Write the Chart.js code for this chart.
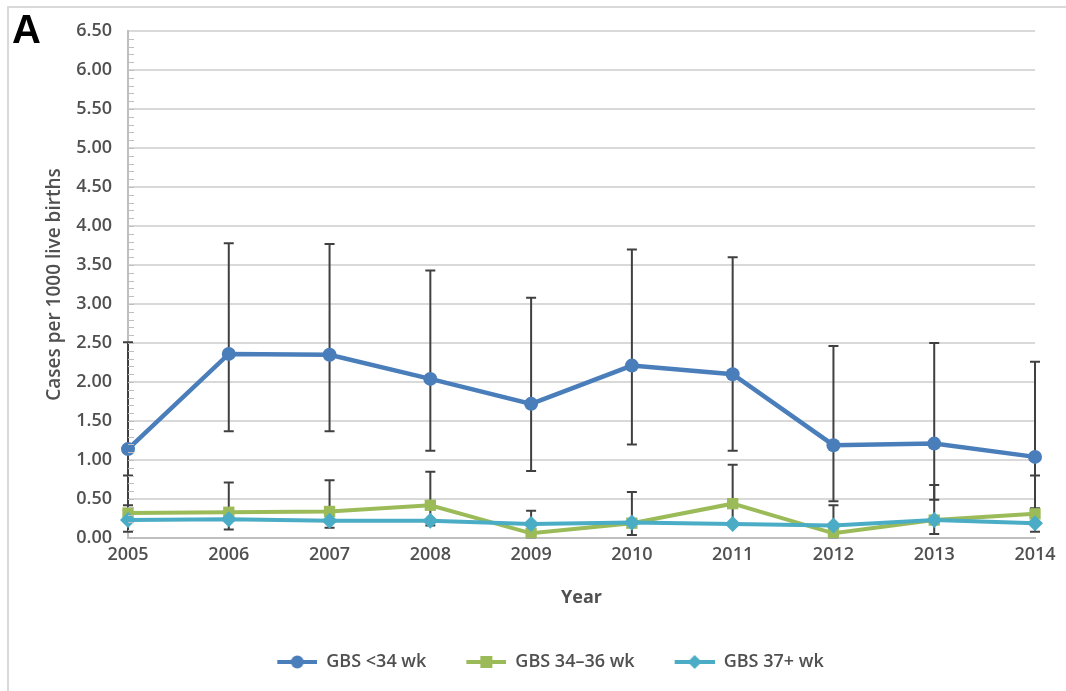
<!DOCTYPE html>
<html>
<head>
<meta charset="utf-8">
<script src="https://cdn.jsdelivr.net/npm/chart.js@4.4.1/dist/chart.umd.min.js"></script>
<style>
  html, body { margin: 0; padding: 0; background: #fff; }
  #wrap { width: 1066px; height: 691px; }
</style>
</head>
<body>
<div id="wrap"><canvas id="chartgbs" width="1066" height="691"></canvas></div>
<script>
// years on the x axis
var years = ["2005","2006","2007","2008","2009","2010","2011","2012","2013","2014"];

// GBS <34 wk
var gbs34 = [1.14, 2.36, 2.35, 2.04, 1.72, 2.21, 2.10, 1.19, 1.21, 1.04];
var gbs34Low = [0.42, 1.37, 1.37, 1.12, 0.86, 1.20, 1.12, 0.47, 0.49, 0.38];
var gbs34High = [2.51, 3.78, 3.77, 3.43, 3.08, 3.70, 3.60, 2.46, 2.50, 2.26];

// GBS 34-36 wk
var gbs3436 = [0.32, 0.33, 0.34, 0.42, 0.06, 0.19, 0.44, 0.06, 0.23, 0.31];
var gbs3436Low = [0.08, 0.11, 0.13, 0.16, 0.01, 0.04, 0.18, 0.01, 0.05, 0.08];
var gbs3436High = [0.80, 0.71, 0.74, 0.85, 0.35, 0.59, 0.94, 0.42, 0.68, 0.80];

// GBS 37+ wk
var gbs37 = [0.23, 0.24, 0.22, 0.22, 0.18, 0.20, 0.18, 0.16, 0.23, 0.19];

var yTicks = [0, 0.5, 1, 1.5, 2, 2.5, 3, 3.5, 4, 4.5, 5, 5.5, 6, 6.5];

var cBlue = "#4a7ebb";
var cGreen = "#9bbb59";
var cCyan = "#4bacc6";
var txtColor = "#505050";
var fontFam = "'Open Sans'";

// little legend swatch: line with the marker in the middle
function makeSwatch(color, shape){
    var c = document.createElement("canvas");
    c.width = 70; c.height = 16;
    var g = c.getContext("2d");
    g.strokeStyle = color;
    g.lineWidth = 4;
    g.beginPath(); g.moveTo(30, 8); g.lineTo(70, 8); g.stroke();
    g.fillStyle = color;
    g.beginPath();
    if(shape == "circle"){
        g.arc(50, 8, 6.5, 0, Math.PI*2);
    }else if(shape == "rect"){
        g.rect(44, 2, 12, 12);
    }else{
        g.moveTo(50, 1); g.lineTo(57, 8); g.lineTo(50, 15); g.lineTo(43, 8); g.closePath();
    }
    g.fill();
    return c;
}
var swatches = [makeSwatch(cBlue,"circle"), makeSwatch(cGreen,"rect"), makeSwatch(cCyan,"diamond")];

// error bars (whiskers with caps)
var errorBars = {
    id: "errorBars",
    beforeDatasetsDraw: function(chart){
        var ctx = chart.ctx;
        var xs = chart.scales.x, ys = chart.scales.y;
        ctx.save();
        ctx.strokeStyle = "#404040";
        ctx.lineWidth = 2;
        chart.data.datasets.forEach(function(ds){
            if(!ds.errLow) return;
            for(var i=0;i<ds.data.length;i++){
                var x = xs.getPixelForValue(i);
                var y1 = ys.getPixelForValue(ds.errLow[i]);
                var y2 = ys.getPixelForValue(ds.errHigh[i]);
                ctx.beginPath();
                ctx.moveTo(x, y1); ctx.lineTo(x, y2);
                ctx.moveTo(x-5, y1); ctx.lineTo(x+5, y1);
                ctx.moveTo(x-5, y2); ctx.lineTo(x+5, y2);
                ctx.stroke();
            }
        });
        ctx.restore();
    }
};

// minor tick marks on the y axis, panel letter and frame
var extras = {
    id: "extras",
    afterDraw: function(chart){
        var ctx = chart.ctx;
        var ys = chart.scales.y;
        var a = chart.chartArea;
        ctx.save();
        ctx.strokeStyle = "#bfbfbf";
        ctx.lineWidth = 1;
        for(var k=1;k<65;k++){
            var y = Math.round(ys.getPixelForValue(k/10)) + 0.5;
            ctx.beginPath(); ctx.moveTo(a.left, y); ctx.lineTo(a.left+6, y); ctx.stroke();
        }
        ctx.strokeStyle = "#d9d9d9";
        ctx.lineWidth = 2;
        ctx.beginPath(); ctx.moveTo(8, 691); ctx.lineTo(8, 7); ctx.lineTo(1066, 7); ctx.stroke();
        ctx.fillStyle = "#000";
        ctx.font = "bold 40px 'Liberation Sans'";
        ctx.textBaseline = "alphabetic";
        ctx.fillText("A", 12, 43);
        ctx.restore();
    }
};

var ctx_chart = document.getElementById("chartgbs").getContext("2d");
var chart = new Chart(ctx_chart, {
    type: "line",
    data: {
        labels: years,
        datasets: [{
            label: "GBS <34 wk",
            data: gbs34,
            errLow: gbs34Low,
            errHigh: gbs34High,
            borderColor: cBlue,
            backgroundColor: cBlue,
            borderWidth: 4.5,
            pointStyle: "circle",
            pointRadius: 7,
            pointBorderWidth: 0,
            order: 0
        },{
            label: "GBS 34\u201336 wk",
            data: gbs3436,
            errLow: gbs3436Low,
            errHigh: gbs3436High,
            borderColor: cGreen,
            backgroundColor: cGreen,
            borderWidth: 4,
            pointStyle: "rect",
            pointRadius: 8,
            pointBorderWidth: 0,
            order: 2
        },{
            label: "GBS 37+ wk",
            data: gbs37,
            borderColor: cCyan,
            backgroundColor: cCyan,
            borderWidth: 4,
            pointStyle: "rectRot",
            pointRadius: 8,
            pointBorderWidth: 0,
            order: 1
        }]
    },
    options: {
        responsive: false,
        animation: false,
        layout: { padding: { left: 36, right: 31, top: 31, bottom: 10 } },
        plugins: {
            tooltip: { enabled: false },
            legend: {
                display: true,
                position: "bottom",
                labels: {
                    usePointStyle: true,
                    pointStyleWidth: 70,
                    padding: 10,
                    color: txtColor,
                    font: { family: fontFam, size: 18, weight: "600" },
                    generateLabels: function(chart){
                        var items = Chart.defaults.plugins.legend.labels.generateLabels(chart);
                        items.sort(function(a,b){ return a.datasetIndex - b.datasetIndex; });
                        items.forEach(function(it){ it.pointStyle = swatches[it.datasetIndex]; });
                        return items;
                    }
                }
            }
        },
        scales: {
            x: {
                offset: false,
                grid: { display: false, drawTicks: false },
                border: { display: true, color: "#bfbfbf", width: 2 },
                ticks: { color: txtColor, padding: 6, font: { family: fontFam, size: 18, weight: "600" } },
                title: {
                    display: true,
                    text: "Year",
                    color: txtColor,
                    font: { family: fontFam, size: 18, weight: "bold" },
                    padding: { top: 4, bottom: 34 }
                },
                afterFit: function(scale){ scale.height = 105; }
            },
            y: {
                min: 0,
                max: 6.5,
                afterBuildTicks: function(scale){
                    scale.ticks = yTicks.map(function(v){ return { value: v }; });
                },
                grid: { color: "#d9d9d9", lineWidth: 2, drawTicks: false },
                border: { display: true, color: "#bfbfbf", width: 2 },
                ticks: {
                    color: txtColor,
                    padding: 16,
                    font: { family: fontFam, size: 18, weight: "600" },
                    callback: function(v){ return Number(v).toFixed(2); }
                },
                title: {
                    display: true,
                    text: "Cases per 1000 live births",
                    color: txtColor,
                    font: { family: fontFam, size: 19, weight: "600" },
                    padding: { top: 7, bottom: 0 }
                },
                afterFit: function(scale){ scale.width = 92; }
            }
        }
    },
    plugins: [errorBars, extras]
});
</script>
</body>
</html>
